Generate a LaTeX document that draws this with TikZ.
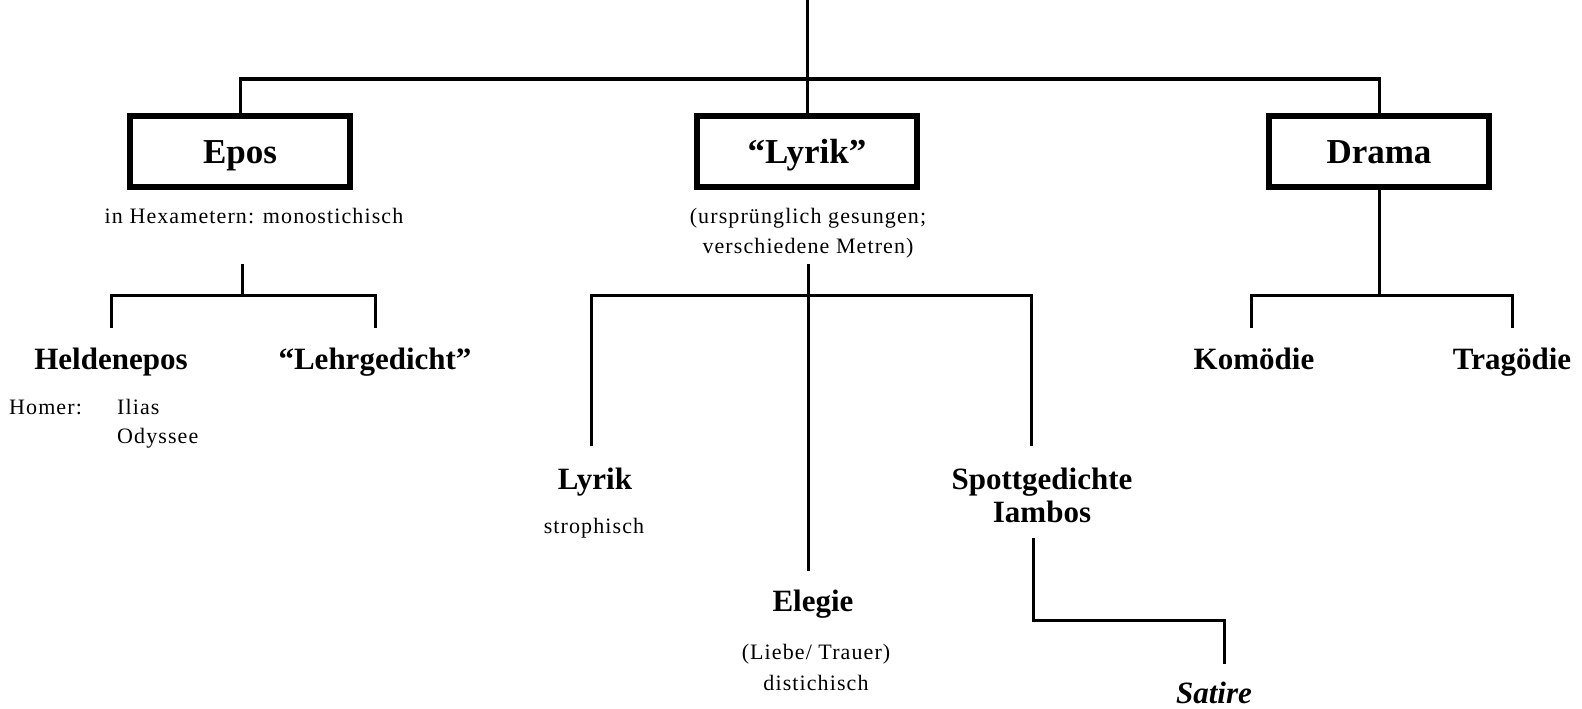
\documentclass[tikz,border=0pt]{standalone}
\usepackage{fontspec}
\setmainfont{Liberation Serif}
\begin{document}
\begin{tikzpicture}[x=1pt,y=-1pt,
  box/.style={draw, line width=5.5pt, minimum width=220pt, minimum height=71pt, inner sep=0pt,
    text height=23pt, text depth=0pt,
    font=\fontsize{35}{40}\selectfont\bfseries},
  lbl/.style={inner sep=0pt, anchor=base, font=\fontsize{31}{34}\selectfont\bfseries},
  txt/.style={inner sep=0pt, anchor=base, font=\fontsize{22}{30}\selectfont\addfontfeatures{LetterSpace=5}},
  conn/.style={line width=3pt}]
\useasboundingbox (0,0) rectangle (1582,709);

% main boxes
\node[box] (epos) at (240,151.5) {Epos};
\node[box] (lyrik) at (807,151.5) {“Lyrik”};
\node[box] (drama) at (1379,151.5) {Drama};

% descriptions
\node[txt] (eposdesc) at (254,223) {in Hexametern: monostichisch};
\node[txt] (lyrdesc1) at (808,223) {(ursprünglich gesungen;};
\node[txt] (lyrdesc2) at (808,253) {verschiedene Metren)};

% leaves
\node[lbl] (held) at (111,369) {Heldenepos};
\node[lbl] (lehr) at (375,369) {“Lehrgedicht”};
\node[txt, anchor=base west] (homer) at (9,414) {Homer:};
\node[txt, anchor=base west] (ilias) at (117,414) {Ilias};
\node[txt, anchor=base west] (odys) at (117,443) {Odyssee};

\node[lbl] (lyr) at (595,489) {Lyrik};
\node[txt] (stro) at (594,533) {strophisch};

\node[lbl] (spott) at (1042,489) {Spottgedichte};
\node[lbl] (iamb) at (1042,522) {Iambos};

\node[lbl] (eleg) at (813,611) {Elegie};
\node[txt] (liebe) at (816,659) {(Liebe/ Trauer)};
\node[txt] (dist) at (816,690) {distichisch};

\node[lbl, font=\fontsize{31}{34}\selectfont\bfseries\itshape] (sat) at (1214,703) {Satire};

\node[lbl] (kom) at (1254,369) {Komödie};
\node[lbl] (trag) at (1512,369) {Tragödie};

% junction coordinates
\coordinate (top) at (807,0);
\coordinate (topbar) at (807,79);
\coordinate (eposroot) at (242,264);
\coordinate (eposbar) at (242,295);
\coordinate (heldend) at (111,328);
\coordinate (lehrend) at (375,328);
\coordinate (lyrroot) at (808,264);
\coordinate (lyrbar) at (808,295);
\coordinate (lyrend) at (591,446);
\coordinate (spottend) at (1031,446);
\coordinate (elegend) at (808,571);
\coordinate (dramabar) at (1379,295);
\coordinate (komend) at (1251,328);
\coordinate (tragend) at (1512,328);
\coordinate (iambroot) at (1033,538);
\coordinate (satbend) at (1224,620);
\coordinate (satend) at (1224,664);

% connectors
\draw[conn] (top) -- (lyrik.north);
\draw[conn] (epos.north) |- (topbar) -| (drama.north);

\draw[conn] (eposroot) -- (eposbar);
\draw[conn] (heldend) |- (eposbar) -| (lehrend);

\draw[conn] (lyrroot) -- (elegend);
\draw[conn] (lyrend) |- (lyrbar) -| (spottend);

\draw[conn] (drama.south) -- (dramabar);
\draw[conn] (komend) |- (dramabar) -| (tragend);

\draw[conn] (iambroot) |- (satbend) -- (satend);
\end{tikzpicture}
\end{document}
